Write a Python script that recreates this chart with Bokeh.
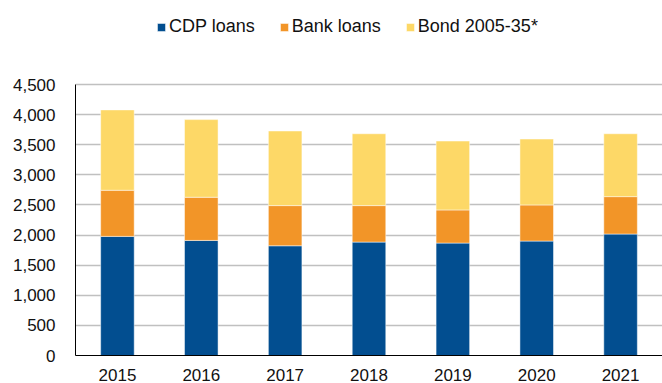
from bokeh.plotting import figure
from bokeh.models import ColumnDataSource, Range1d, FactorRange, Legend, LegendItem, NumeralTickFormatter, FixedTicker
from bokeh.embed import file_html
from bokeh.resources import INLINE

years = ["2015", "2016", "2017", "2018", "2019", "2020", "2021"]
cdp_loans = [1978, 1911, 1822, 1883, 1867, 1900, 2017]
bank_loans = [766, 717, 667, 606, 550, 600, 621]
bond_2005_35 = [1334, 1289, 1239, 1193, 1144, 1094, 1044]
series = ["CDP loans", "Bank loans", "Bond 2005-35*"]
colors = ["#024E90", "#F29528", "#FDD867"]
y_ticks = [0, 500, 1000, 1500, 2000, 2500, 3000, 3500, 4000, 4500]

source = ColumnDataSource(data={
    "year": years,
    "CDP loans": cdp_loans,
    "Bank loans": bank_loans,
    "Bond 2005-35*": bond_2005_35,
})

FONT = "Liberation Sans"

# layout: frame spans from top of page to y=355px; value 4500 sits at y=84px
FRAME_BOTTOM = 355
TOP_VALUE_PX = 84
y_max = max(y_ticks)
y_end = y_max * FRAME_BOTTOM / (FRAME_BOTTOM - TOP_VALUE_PX)

p = figure(width=662, height=383, x_range=FactorRange(*years), y_range=Range1d(0, y_end),
           output_backend="svg", toolbar_location=None,
           min_border_left=75, min_border_right=0, min_border_top=0, min_border_bottom=28)

renderers = p.vbar_stack(series, x="year", width=0.4, source=source, color=colors,
                         line_color="white", line_width=0.8, line_alpha=0.6)

p.outline_line_color = None
p.background_fill_color = "white"
p.border_fill_color = "white"

# y axis
p.yaxis.ticker = FixedTicker(ticks=y_ticks)
p.yaxis.bounds = (0, y_max)
p.yaxis.formatter = NumeralTickFormatter(format="0,0")
p.yaxis.major_tick_line_color = None
p.yaxis.minor_tick_line_color = None
p.yaxis.axis_line_color = "black"
p.yaxis.axis_line_width = 1
p.yaxis.major_label_standoff = 14
p.yaxis.major_label_text_font = FONT
p.yaxis.major_label_text_font_size = "17px"
p.yaxis.major_label_text_color = "#111111"

# x axis
p.xaxis.major_tick_line_color = None
p.xaxis.minor_tick_line_color = None
p.xaxis.axis_line_color = "black"
p.xaxis.axis_line_width = 1
p.xaxis.major_label_standoff = 7
p.xaxis.major_label_text_font = FONT
p.xaxis.major_label_text_font_size = "17px"
p.xaxis.major_label_text_color = "#111111"

p.xgrid.grid_line_color = None
p.ygrid.grid_line_color = "#C0C0C0"
p.ygrid.grid_line_width = 1.5

legend = Legend(items=[LegendItem(label=s, renderers=[r]) for s, r in zip(series, renderers)],
                orientation="horizontal", location=(81, 318),
                glyph_width=10, glyph_height=10, label_standoff=3, spacing=24,
                margin=0, padding=0, border_line_color=None, background_fill_alpha=0,
                label_text_font=FONT, label_text_font_size="18px", label_text_color="#111111",
                label_height=20)
p.add_layout(legend, "center")

open("out.html", "w").write(file_html(p, INLINE))
